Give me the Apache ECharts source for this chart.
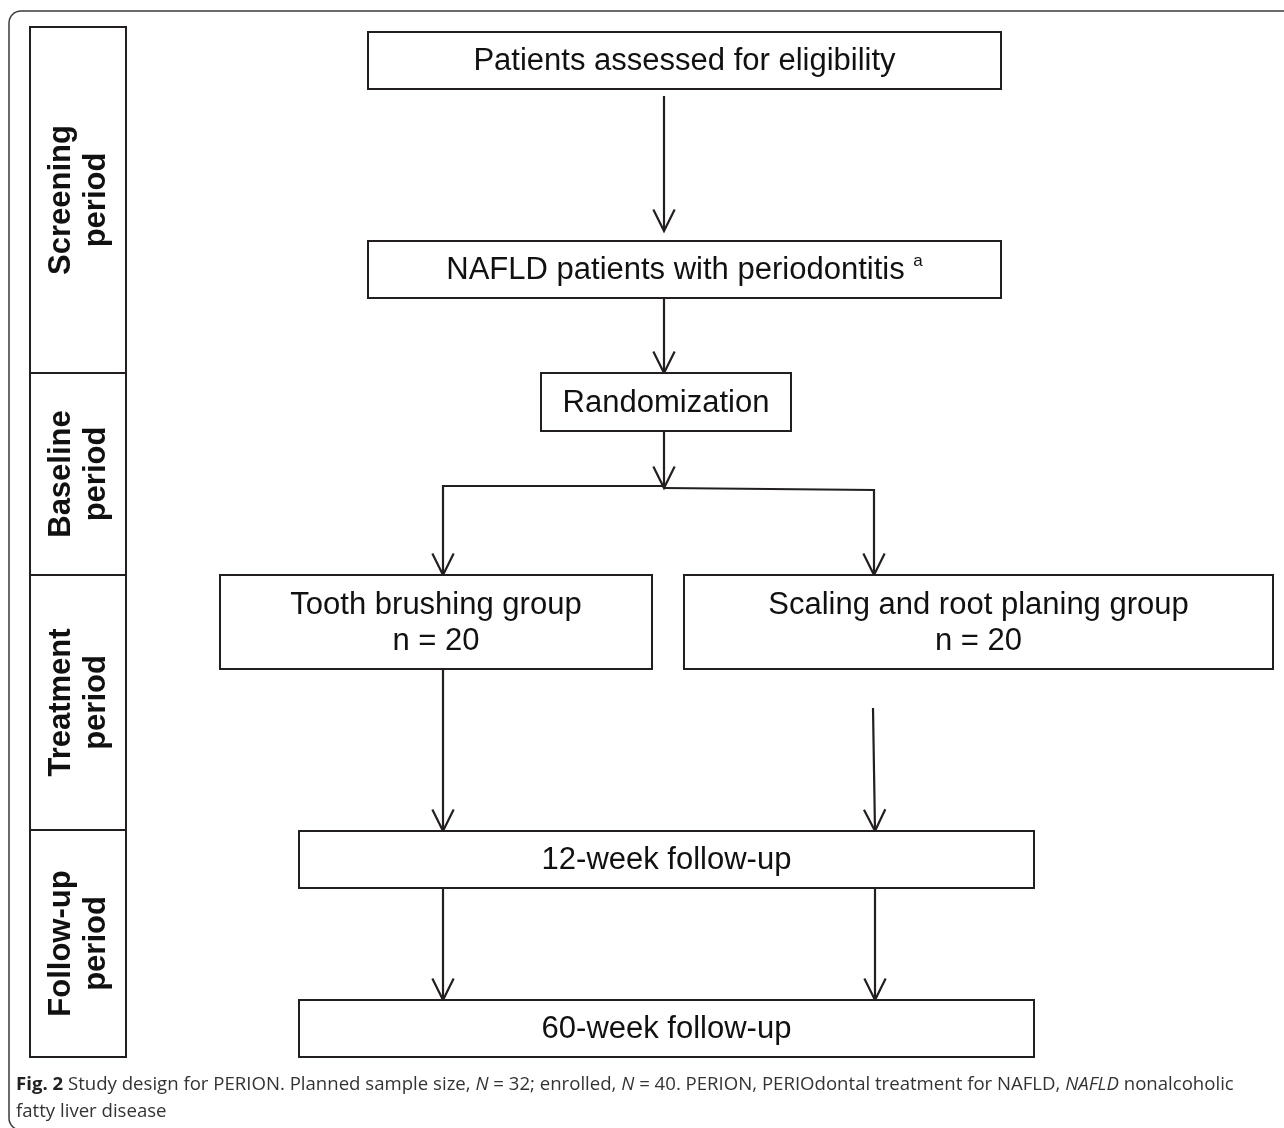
<!DOCTYPE html>
<html>
<head>
<meta charset="utf-8">
<script src="https://cdn.jsdelivr.net/npm/echarts@6/dist/echarts.min.js"></script>
<style>
  html, body { margin: 0; padding: 0; background: #fff; }
  #chart { width: 1284px; height: 1128px; }
</style>
</head>
<body>
<div id="chart"></div>
<script>
// flow boxes (page units: x to the right, y downwards)
const boxText = [
  'Patients assessed for eligibility',
  'NAFLD patients with periodontitis {sup|a}',
  'Randomization',
  'Tooth brushing group\nn = 20',
  'Scaling and root planing group\nn = 20',
  '12-week follow-up',
  '60-week follow-up'
];
const boxLeft = [368, 368, 541, 220, 684, 299, 299];
const boxRight = [1001, 1001, 791, 652, 1273, 1034, 1034];
const boxTop = [32, 241, 373, 575, 575, 831, 1000];
const boxBottom = [89, 298, 431, 669, 669, 888, 1057];

// connectors, each a polyline ending in an arrow head
const arrowPaths = [
  [[664, 96], [664, 231]],
  [[664, 298], [664, 373]],
  [[664, 431], [664, 488]],
  [[664, 486], [443, 486], [443, 575]],
  [[664, 488], [874, 490], [874, 575]],
  [[443, 669], [443, 831]],
  [[873, 708], [875, 831]],
  [[443, 888], [443, 1000]],
  [[875, 888], [875, 1000]]
];

// period column on the left
const periodNames = ['Screening\nperiod', 'Baseline\nperiod', 'Treatment\nperiod', 'Follow-up\nperiod'];
const periodStart = [27, 373, 575, 830];
const periodEnd = [373, 575, 830, 1057];
const periodLeft = 30;
const periodRight = 126;

const W = 1284, H = 1128;
const ink = '#231f20';

const chart = echarts.init(document.getElementById('chart'), null, { renderer: 'canvas' });

const boxData = boxText.map((t, i) => [boxLeft[i], boxTop[i], boxRight[i], boxBottom[i], i]);
const periodData = periodNames.map((t, i) => [periodLeft, periodStart[i], periodRight, periodEnd[i], i]);

function boxItem(params, api) {
  const p0 = api.coord([api.value(0), api.value(1)]);
  const p1 = api.coord([api.value(2), api.value(3)]);
  const i = api.value(4);
  return {
    type: 'group',
    children: [
      {
        type: 'rect',
        shape: { x: p0[0], y: p0[1], width: p1[0] - p0[0], height: p1[1] - p0[1] },
        style: { fill: '#fff', stroke: ink, lineWidth: 2 }
      },
      {
        type: 'text',
        x: (p0[0] + p1[0]) / 2,
        y: (p0[1] + p1[1]) / 2 + 1,
        style: {
          text: boxText[i],
          align: 'center',
          verticalAlign: 'middle',
          fill: '#111',
          font: '31px "Liberation Sans", Arial, sans-serif',
          lineHeight: 36,
          rich: {
            sup: { fontSize: 17, verticalAlign: 'top', padding: [0, 0, 16, 0], fill: '#111', fontFamily: '"Liberation Sans", Arial' }
          }
        }
      }
    ]
  };
}

function periodItem(params, api) {
  const p0 = api.coord([api.value(0), api.value(1)]);
  const p1 = api.coord([api.value(2), api.value(3)]);
  const i = api.value(4);
  return {
    type: 'group',
    children: [
      {
        type: 'rect',
        shape: { x: p0[0], y: p0[1], width: p1[0] - p0[0], height: p1[1] - p0[1] },
        style: { fill: '#fff', stroke: ink, lineWidth: 2 }
      },
      {
        type: 'text',
        x: (p0[0] + p1[0]) / 2 + 1,
        y: (p0[1] + p1[1]) / 2,
        rotation: Math.PI / 2,
        style: {
          text: periodNames[i],
          align: 'center',
          verticalAlign: 'middle',
          fill: '#111',
          font: 'bold 31px "Liberation Sans", Arial, sans-serif',
          lineHeight: 35
        }
      }
    ]
  };
}

function arrowItem(params, api) {
  const pts = arrowPaths[params.dataIndex].map(p => api.coord(p));
  const tip = pts[pts.length - 1];
  const prev = pts[pts.length - 2];
  const ang = Math.atan2(tip[1] - prev[1], tip[0] - prev[0]);
  const len = 24, spread = 0.46;
  const head = [
    [tip[0] - len * Math.cos(ang - spread), tip[1] - len * Math.sin(ang - spread)],
    tip,
    [tip[0] - len * Math.cos(ang + spread), tip[1] - len * Math.sin(ang + spread)]
  ];
  return {
    type: 'group',
    children: [
      { type: 'polyline', shape: { points: pts }, style: { stroke: ink, lineWidth: 2.2, fill: null } },
      { type: 'polyline', shape: { points: head }, style: { stroke: ink, lineWidth: 2.2, fill: null } }
    ]
  };
}

chart.setOption({
  animation: false,
  backgroundColor: '#fff',
  title: {
    left: 16,
    top: 1071,
    padding: 0,
    text: '{b|Fig. 2} Study design for PERION. Planned sample size, {i|N} = 32; enrolled, {i|N} = 40. PERION, PERIOdontal treatment for NAFLD, {i|NAFLD} nonalcoholic\nfatty liver disease',
    textStyle: {
      fontFamily: '"Open Sans", sans-serif',
      fontSize: 18.6,
      fontWeight: 'normal',
      color: '#333',
      lineHeight: 27,
      rich: {
        b: { fontWeight: 'bold', fontFamily: '"Open Sans", sans-serif', fontSize: 18.6, color: '#222' },
        i: { fontStyle: 'italic', fontFamily: '"Open Sans", sans-serif', fontSize: 18.6, color: '#333' }
      }
    }
  },
  graphic: [
    {
      type: 'rect',
      shape: { x: 9, y: 11, width: 1320, height: 1119, r: 12 },
      style: { fill: null, stroke: '#3a3a3a', lineWidth: 1.5 },
      z: 0
    }
  ],
  grid: { left: 0, right: 0, top: 0, bottom: 0 },
  xAxis: { type: 'value', min: 0, max: W, show: false },
  yAxis: { type: 'value', min: 0, max: H, inverse: true, show: false },
  series: [
    { type: 'custom', coordinateSystem: 'cartesian2d', data: arrowPaths.map((p, i) => [p[0][0], p[0][1]]), renderItem: arrowItem, z: 2 },
    { type: 'custom', coordinateSystem: 'cartesian2d', data: boxData, renderItem: boxItem, z: 3 },
    { type: 'custom', coordinateSystem: 'cartesian2d', data: periodData, renderItem: periodItem, z: 3 }
  ]
});
</script>
</body>
</html>
